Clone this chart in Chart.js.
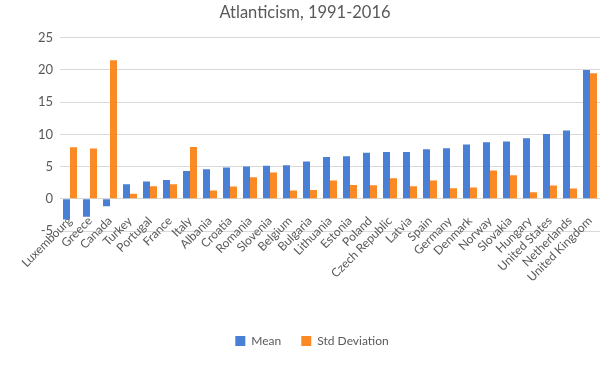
<!DOCTYPE html>
<html>
<head>
<meta charset="utf-8">
<script src="https://cdn.jsdelivr.net/npm/chart.js@4"></script>
<style>
  html, body { margin: 0; padding: 0; background: #fff; }
  #wrap { width: 609px; height: 372px; }
</style>
</head>
<body>
<div id="wrap"><canvas id="myChart"></canvas></div>
<script>
// データ
var countries = ['Luxembourg', 'Greece', 'Canada', 'Turkey', 'Portugal', 'France', 'Italy', 'Albania',
	'Croatia', 'Romania', 'Slovenia', 'Belgium', 'Bulgaria', 'Lithuania', 'Estonia', 'Poland',
	'Czech Republic', 'Latvia', 'Spain', 'Germany', 'Denmark', 'Norway', 'Slovakia', 'Hungary',
	'United States', 'Netherlands', 'United Kingdom'];
var mean_vals = [-3.2, -2.8, -1.15, 2.25, 2.7, 2.9, 4.3, 4.6,
	4.85, 5.0, 5.15, 5.2, 5.8, 6.5, 6.6, 7.15,
	7.25, 7.25, 7.7, 7.85, 8.45, 8.8, 8.9, 9.4,
	10.05, 10.6, 20.0];
var std_vals = [8.0, 7.8, 21.5, 0.8, 1.95, 2.25, 8.05, 1.3,
	1.9, 3.35, 4.1, 1.3, 1.35, 2.85, 2.15, 2.1,
	3.2, 1.95, 2.85, 1.65, 1.75, 4.4, 3.65, 1.0,
	2.05, 1.6, 19.5];
var y_ticks = [-5, 0, 5, 10, 15, 20, 25];

var gray = '#595959';
Chart.defaults.font.family = 'Lato, "Noto Sans", sans-serif';
Chart.defaults.color = gray;

// 凡例を少し右へ
var legendShift = {
	id: 'legendShift',
	afterLayout: function(chart) {
		chart.legend.left += 7;
		chart.legend.right += 7;
	}
};

var ctx = document.getElementById('myChart').getContext('2d');
var myChart = new Chart(ctx, {
	type: 'bar',
	data: {
		labels: countries,
		datasets: [
			{
				label: 'Mean',
				data: mean_vals,
				backgroundColor: '#4A7FD6'
			}, {
				label: 'Std Deviation',
				data: std_vals,
				backgroundColor: '#FB8A24'
			}
		]
	},
	plugins: [legendShift],
	options: {
		responsive: true,
		maintainAspectRatio: false,
		animation: false,
		layout: { padding: { left: 10, right: 9, top: 0, bottom: 15 } },
		datasets: {
			bar: { categoryPercentage: 0.7, barPercentage: 1.0 }
		},
		plugins: {
			title: {
				display: true,
				text: 'Atlanticism, 1991-2016',
				color: gray,
				font: { size: 16.5, weight: 'normal' },
				padding: { top: 3, bottom: 15 }
			},
			legend: {
				position: 'bottom',
				labels: {
					boxWidth: 10,
					boxHeight: 10,
					padding: 20,
					color: gray,
					font: { size: 12 }
				}
			},
			tooltip: { enabled: false }
		},
		scales: {
			x: {
				position: { y: 0 },	// 0の位置にラベル
				grid: { display: false, drawTicks: false },
				border: { display: false },
				ticks: {
					autoSkip: false,
					minRotation: 45,
					maxRotation: 45,
					padding: 15,
					color: gray,
					font: { size: 12 }
				},
				afterFit: function(scale) {
					scale.paddingLeft = 0;
					scale.paddingRight = 0;
				}
			},
			x2: {
				// ラベル用の余白だけ確保
				type: 'category',
				position: 'bottom',
				labels: countries,
				grid: { display: false, drawTicks: false },
				border: { display: false },
				ticks: { display: false },
				afterFit: function(scale) { scale.height = 84; }
			},
			y: {
				min: -5,
				max: 25,
				afterBuildTicks: function(scale) {
					scale.ticks = y_ticks.map(function(v) { return { value: v }; });
				},
				grid: { color: '#d9d9d9', drawTicks: false },
				border: { display: false },
				ticks: {
					padding: 7,
					color: gray,
					font: { size: 13 }
				},
				afterFit: function(scale) { scale.width = 50; }
			}
		}
	}
});
</script>
</body>
</html>
